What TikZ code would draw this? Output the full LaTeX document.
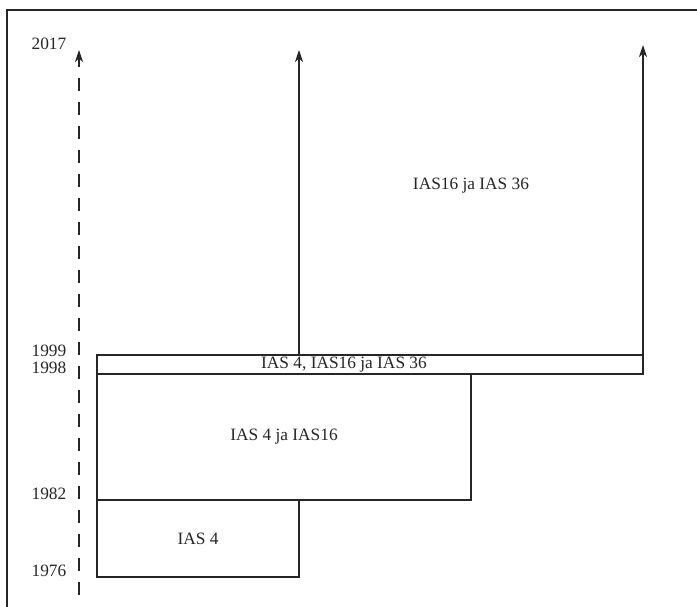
\documentclass[tikz,border=0pt]{standalone}
\usepackage{fontspec}
\setmainfont{Liberation Serif}
\usetikzlibrary{arrows.meta}
\begin{document}
\begin{tikzpicture}[x=0.75pt,y=0.75pt,line width=1.1pt,color=black!85,
  font=\fontsize{13}{15}\selectfont,
  year/.style={anchor=east,inner sep=0pt},
  up/.style={-{Stealth[length=9pt,width=6pt,inset=2.5pt]}}]
  \useasboundingbox (0,0) rectangle (697,607);
  \draw (7,0) -- (7,597) -- (697,597);
  % time axis
  \coordinate (tstart) at (79,12);
  \coordinate (tend) at (79,557);
  \draw[up,dash pattern=on 9.75pt off 8.25pt] (tstart) -- (tend);
  \node[year] (y2017) at (67,563) {2017};
  \node[year] (y1999) at (67,256) {1999};
  \node[year] (y1998) at (67,239) {1998};
  \node[year] (y1982) at (67,113) {1982};
  \node[year] (y1976) at (67,36) {1976};
  % periods
  \draw (97,30) rectangle ++(202,77) node[pos=.5] (ias4) {IAS 4};
  \draw (97,107) rectangle ++(374,126) node[pos=.5] (ias416) {IAS 4 ja IAS16};
  \draw (97,233) rectangle ++(546,19);
  \node[inner sep=0pt] (ias41636) at (344,242) {IAS 4, IAS16 ja IAS 36};
  % open periods
  \coordinate (lstart) at (299,252);
  \coordinate (lend) at (299,557);
  \coordinate (rstart) at (643,252);
  \coordinate (rend) at (643,562);
  \draw[up] (lstart) -- (lend);
  \draw[up] (rstart) -- (rend);
  \node (ias1636) at (471,421) {IAS16 ja IAS 36};
\end{tikzpicture}
\end{document}
